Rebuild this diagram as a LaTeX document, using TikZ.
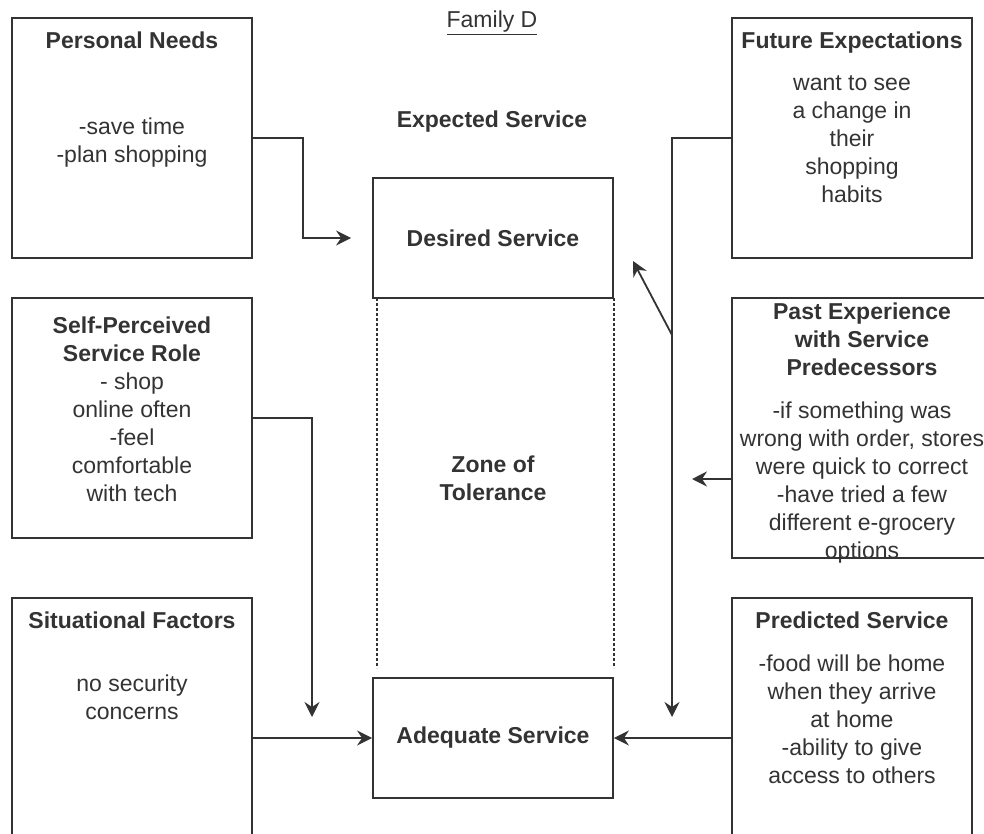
\documentclass[tikz,border=0pt]{standalone}
\usepackage{fontspec}
\setmainfont{Liberation Sans}
\usepackage{tikz}
\usetikzlibrary{calc,arrows.meta}
\definecolor{trazogris}{HTML}{333333}
\definecolor{textogris}{HTML}{333333}

\begin{document}
\begin{tikzpicture}[x=1pt, y=-1pt, >={Stealth[length=15pt,width=15pt,inset=5pt]}, line width=1.8pt,
    box/.style={draw=trazogris, minimum width=240pt, minimum height=240pt, inner sep=0pt},
    svcbox/.style={draw=trazogris, minimum width=240pt, minimum height=120pt, text=textogris, font=\fontsize{23}{28}\selectfont\bfseries},
    ttl/.style={anchor=north, inner sep=0pt, align=center, text=textogris, font=\fontsize{23}{28}\selectfont\bfseries},
    txt/.style={anchor=north, inner sep=0pt, align=center, text=textogris, font=\fontsize{23}{28}\selectfont},
    conn/.style={->, draw=trazogris},
    zone/.style={draw=trazogris, line width=1.3pt, dash pattern=on 3pt off 2pt}]
    \useasboundingbox (0,0) rectangle (984,834);
    \clip (0,0) rectangle (984,834);
    % heading
    \node[txt] (family) at (492,10) {\underline{Family D}};
    \node[ttl] (expected) at (492,110) {Expected Service};
    % service levels
    \node[svcbox] (ds) at (493,238) {Desired Service};
    \node[svcbox] (as) at (493,738) {Adequate Service};
    \draw[zone] (377,298) -- (377,668);
    \draw[zone] (614,298) -- (614,668);
    \node[ttl] (zone) at (493,455) {Zone of\\Tolerance};
    % left side boxes
    \node[box] (pn) at (132,138) {};
    \node[ttl] at (132,31) {Personal Needs};
    \node[txt] at (132,117) {-save time\\-plan shopping};
    \node[box] (sp) at (132,418) {};
    \node[ttl] at (132,316) {Self-Perceived\\Service Role};
    \node[txt] at (132,372) {- shop\\online often\\-feel\\comfortable\\with tech};
    \node[box] (sf) at (132,718) {};
    \node[ttl] at (132,611) {Situational Factors};
    \node[txt] at (132,674) {no security\\concerns};
    % right side boxes
    \node[box] (fe) at (852,138) {};
    \node[ttl] at (852,31) {Future Expectations};
    \node[txt] at (852,75) {want to see\\a change in\\their\\shopping\\habits};
    \node[box, minimum width=260pt, minimum height=260pt] (pe) at (862,428) {};
    \node[ttl] at (862,302) {Past Experience\\with Service\\Predecessors};
    \node[txt] at (862,401) {-if something was\\wrong with order, stores\\were quick to correct\\-have tried a few\\different e-grocery\\options};
    \node[box] (ps) at (852,718) {};
    \node[ttl] at (852,611) {Predicted Service};
    \node[txt] at (852,654) {-food will be home\\when they arrive\\at home\\-ability to give\\access to others};
    % free arrow ends
    \coordinate (spend) at (312,717);
    \coordinate (feend) at (672,717);
    \coordinate (febend) at (672,335);
    \coordinate (dstip) at (633,261);
    \coordinate (petip) at (692,479);
    % connectors
    \draw[conn, shorten >=21pt] (pn.east) -- ++(50,0) |- (ds.west);
    \draw[conn] (sp.east) -| (spend);
    \draw[conn] (sf.east |- as.west) -- (as.west);
    \draw[conn] (fe.west) -| (feend);
    \draw[conn] (febend) -- (dstip);
    \draw[conn] (pe.west |- petip) -- (petip);
    \draw[conn] (ps.west |- as.east) -- (as.east);
\end{tikzpicture}
\end{document}
